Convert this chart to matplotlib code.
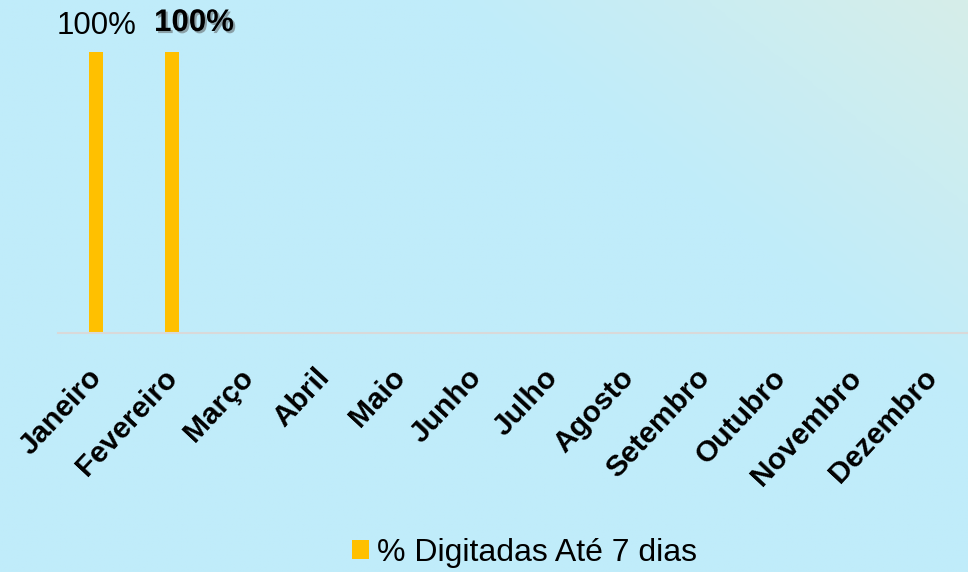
import numpy as np
import matplotlib
matplotlib.use("Agg")
import matplotlib.pyplot as plt
import matplotlib.patheffects as pe
from matplotlib.colors import LinearSegmentedColormap

plt.rcParams['font.family'] = ['Liberation Sans', 'DejaVu Sans']

# dados
meses = ["Janeiro", "Fevereiro", "Março", "Abril", "Maio", "Junho",
         "Julho", "Agosto", "Setembro", "Outubro", "Novembro", "Dezembro"]
digitadas_7_dias = [100, 100, None, None, None, None, None, None, None, None, None, None]
rotulos = ["100%", "100%"]
serie_nome = "% Digitadas Até 7 dias"

fig = plt.figure(figsize=(9.68, 5.72), dpi=100)

# fundo em gradiente (azul claro -> verde-água no canto superior direito)
bg = fig.add_axes([0, 0, 1, 1], zorder=0)
xx, yy = np.meshgrid(np.linspace(0, 1, 200), np.linspace(0, 1, 200))
grad = np.clip((xx * 0.8 + yy * 0.6) - 0.55, 0, None)
grad = grad / grad.max()
cmap = LinearSegmentedColormap.from_list("fundo", ["#C0ECFA", "#C0ECFA", "#D6EEE9"])
bg.imshow(grad, cmap=cmap, origin="lower", aspect="auto", extent=[0, 1, 0, 1])
bg.axis("off")

ax = fig.add_axes([58 / 968, 239 / 572, 912 / 968, 333 / 572], zorder=1)
ax.patch.set_alpha(0)

x = np.arange(len(meses))
vals = [v if v is not None else 0 for v in digitadas_7_dias]
bars = ax.bar(x, vals, width=0.18, color="#FFC000", label=serie_nome, zorder=2)

ax.set_xlim(-0.5, len(meses) - 0.5)
ax.set_ylim(0, 118.5)
for s in ["top", "right", "left"]:
    ax.spines[s].set_visible(False)
ax.spines["bottom"].set_color("#D9D9D9")
ax.spines["bottom"].set_linewidth(1.5)
ax.set_yticks([])
ax.set_xticks([])

# rótulos dos meses
for i, m in enumerate(meses):
    ax.annotate(m, xy=(i, 0), xycoords="data", xytext=(1, -40), textcoords="offset pixels",
                rotation=47, rotation_mode="anchor", ha="right", va="center",
                fontsize=21.5, fontweight="bold", color="black")

# rótulos de valor
ax.annotate(rotulos[0], xy=(0, digitadas_7_dias[0]), xytext=(1, 26), textcoords="offset pixels",
            ha="center", va="center", fontsize=22.5, color="black")
ax.annotate(rotulos[1], xy=(1, digitadas_7_dias[1]), xytext=(22, 29), textcoords="offset pixels",
            ha="center", va="center", fontsize=22.5, fontweight="bold", color="black",
            path_effects=[pe.withSimplePatchShadow(offset=(1.5, -1.5), shadow_rgbFace="#555555", alpha=0.5)])

fig.legend(handles=[bars], labels=[serie_nome], loc="center", bbox_to_anchor=(0.542, 0.034),
           frameon=False, fontsize=23, handlelength=0.55, handleheight=0.55, handletextpad=0.25,
           borderpad=0)

fig.savefig("out.png", dpi=100)
